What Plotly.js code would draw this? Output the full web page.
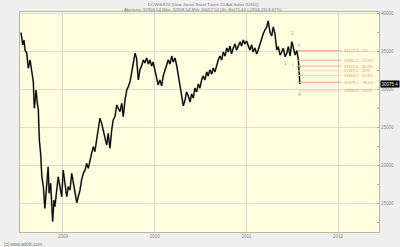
<!DOCTYPE html>
<html><head><meta charset="utf-8">
<script src="https://cdn.plot.ly/plotly-3.0.1.min.js"></script>
<style>html,body{margin:0;padding:0;background:#efefef;}#chart{width:400px;height:247px;}</style>
</head><body><div id="chart"></div>
<script>
const dates = [
'2008-07-18','2008-07-25','2008-07-30','2008-08-03','2008-08-10','2008-08-16','2008-08-23','2008-08-29','2008-09-05','2008-09-09',
'2008-09-16','2008-09-21','2008-09-25','2008-09-29','2008-10-04','2008-10-09','2008-10-15','2008-10-21','2008-10-28','2008-11-03',
'2008-11-07','2008-11-13','2008-11-21','2008-11-26','2008-11-30','2008-12-07','2008-12-13','2008-12-20','2008-12-27','2009-01-02',
'2009-01-09','2009-01-16','2009-01-22','2009-01-29','2009-02-05','2009-02-11','2009-02-18','2009-02-25','2009-03-03','2009-03-10',
'2009-03-16','2009-03-23','2009-03-30','2009-04-05','2009-04-12','2009-04-18','2009-04-25','2009-05-02','2009-05-08','2009-05-15',
'2009-05-21','2009-05-28','2009-06-04','2009-06-10','2009-06-17','2009-06-24','2009-06-30','2009-07-07','2009-07-14','2009-07-20',
'2009-07-27','2009-08-03','2009-08-09','2009-08-16','2009-08-23','2009-08-29','2009-09-05','2009-09-12','2009-09-18','2009-09-25',
'2009-10-01','2009-10-08','2009-10-15','2009-10-21','2009-10-28','2009-11-03','2009-11-10','2009-11-17','2009-11-23','2009-11-30',
'2009-12-07','2009-12-13','2009-12-20','2009-12-26','2010-01-02','2010-01-09','2010-01-15','2010-01-22','2010-01-29','2010-02-04',
'2010-02-11','2010-02-18','2010-02-24','2010-03-03','2010-03-10','2010-03-16','2010-03-23','2010-03-30','2010-04-05','2010-04-12',
'2010-04-18','2010-04-25','2010-05-02','2010-05-08','2010-05-15','2010-05-22','2010-05-28','2010-06-04','2010-06-10','2010-06-17',
'2010-06-24','2010-06-30','2010-07-07','2010-07-13','2010-07-20','2010-07-27','2010-08-02','2010-08-09','2010-08-16','2010-08-22',
'2010-08-29','2010-09-05','2010-09-11','2010-09-18','2010-09-25','2010-10-01','2010-10-08','2010-10-15','2010-10-21','2010-10-28',
'2010-11-03','2010-11-10','2010-11-17','2010-11-23','2010-11-30','2010-12-07','2010-12-13','2010-12-20','2010-12-26','2011-01-02',
'2011-01-09','2011-01-15','2011-01-22','2011-01-28','2011-02-04','2011-02-11','2011-02-17','2011-02-24','2011-03-03','2011-03-09',
'2011-03-16','2011-03-23','2011-03-29','2011-04-05','2011-04-12','2011-04-18','2011-04-25','2011-05-02','2011-05-08','2011-05-15',
'2011-05-22','2011-05-28','2011-06-04','2011-06-11','2011-06-17','2011-06-24','2011-07-01','2011-07-07','2011-07-14','2011-07-21',
'2011-07-27','2011-08-02'
];
const values = [
37500,35880,36540,35220,34790,32820,33910,32590,31050,27550,
29960,28210,27330,23380,21630,18550,17240,14390,17680,19870,
16370,17680,12650,15490,14610,16800,18550,17240,15920,19430,
17890,15920,17240,16800,19000,17680,16370,15130,15920,16800,
18120,19000,19430,20310,19660,20750,21630,22500,21840,23380,
24700,26240,25580,24700,23820,22720,24260,22290,24700,26010,
26450,27990,27550,27110,28210,26450,28640,29960,30390,31050,
32160,33470,34790,34130,31280,32590,33120,33910,33510,34170,
33380,33910,33120,33640,32590,31540,30620,31280,30490,31800,
32590,33120,33910,33380,34430,33640,34170,33120,31930,29960,
28910,27860,28640,29700,29170,28380,29430,28910,30220,29700,
30750,30220,31280,31800,31280,32330,31800,32590,32060,32850,
32330,33380,33910,34430,33910,34960,34430,35490,34960,35750,
34700,35490,36010,35220,35750,36280,35750,36540,36010,36410,
35750,35220,35880,34960,35490,34700,35220,36010,36540,37330,
37860,38250,39040,37590,37070,38250,37330,35220,35660,34570,
35000,35450,34340,34790,35660,34430,36320,35660,34570,35130,
33910,30750
];
const fibValues = [35127.3, 33881.1, 33111.4, 32487.0, 31863.9, 30979.1, 29846.8];
const fibLabels = ['35127.3 - 0%','33881.1 - 23.6%','33111.4 - 38.2%','32487.0 - 50%','31863.9 - 61.8%','30979.1 - 78.6%','29846.8 - 100%'];
const waveLabels = ['1','2','i','ii','iii'];
const waveDates = ['2011-06-06','2011-07-04','2011-07-03','2011-07-29','2011-07-30'];
const waveValues = [33470, 37420, 33250, 35880, 29390];
const lastLabel = '30075.4';
const xTicks = ['2009-01-01','2010-01-01','2011-01-01','2012-01-01'];
const xTickText = ['2009','2010','2011','2012'];
const yTicks = [15000,20000,25000,30000,35000,40000];
const yTickText = ['15000','20000','25000','30000','35000','40000'];
const title1 = 'DOW:BR20 (Dow Jones Brazil Titans 20 Adr Index (USD))';
const title2 = 'Abertura: 32908.54 Máx: 32908.54 Mín: 30057.50 Ult: 30075.44 (-2854.23/-8.67%)';
const footer = '(c) www.advfn.com';

const F = 'Liberation Sans, Arial, sans-serif';
const strong = [true,true,true,false,false,true,false];
const shapes = fibValues.map((v,i)=>({type:'line', xref:'x', yref:'y', x0:'2011-07-25', x1:'2012-01-14', y0:v, y1:v,
  line:{color: strong[i] ? '#f4a08e' : '#f8cdbd', width:1}}));
const ann = [];
fibValues.forEach((v,i)=>ann.push({x:'2012-01-16', y:v, xref:'x', yref:'y', text:fibLabels[i], showarrow:false,
  xanchor:'left', yanchor:'middle', font:{family:F, size:4, color:'#f08a78'}}));
waveLabels.forEach((t,i)=>ann.push({x:waveDates[i], y:waveValues[i], xref:'x', yref:'y', text:t, showarrow:false,
  xanchor:'center', yanchor:'middle', font:{family:F, size:5, color: (t==='1'||t==='2') ? '#f08a78' : '#a0a8e8'}}));
ann.push({x:1, y:values[values.length-1], xref:'paper', yref:'y', text:lastLabel, showarrow:false, xanchor:'left', yanchor:'middle',
  xshift:1, bgcolor:'#000', borderpad:0.5, font:{family:F, size:4.5, color:'#fff'}});
ann.push({x:0.51, y:1.034, xref:'paper', yref:'paper', text:title1, showarrow:false, xanchor:'center', yanchor:'middle',
  font:{family:F, size:4.3, color:'#777'}});
ann.push({x:0.51, y:1.0125, xref:'paper', yref:'paper', text:title2, showarrow:false, xanchor:'center', yanchor:'middle',
  font:{family:F, size:4.3, color:'#777'}});
ann.push({x:-0.05, y:-0.055, xref:'paper', yref:'paper', text:footer, showarrow:false, xanchor:'left', yanchor:'middle',
  font:{family:F, size:4.5, color:'#777'}});

const halo = {x:dates, y:values, type:'scatter', mode:'lines', line:{color:'#9a9a90', width:1.9}, hoverinfo:'skip'};
const trace = {x:dates, y:values, type:'scatter', mode:'lines', line:{color:'#000', width:1.1}, hoverinfo:'skip'};
const layout = {
  width:400, height:247, margin:{l:20, r:21, t:12, b:15},
  paper_bgcolor:'#efefef', plot_bgcolor:'#ffffe0', showlegend:false,
  xaxis:{type:'date', range:['2008-07-14','2012-06-12'], tickvals:xTicks, ticktext:xTickText,
    showgrid:true, gridcolor:'#dcdccc', gridwidth:1, zeroline:false, showline:true, mirror:true, linecolor:'#b8b89c', linewidth:1,
    ticks:'', tickfont:{family:F, size:4.5, color:'#888'}},
  yaxis:{range:[11280, 40220], side:'right', tickvals:yTicks, ticktext:yTickText, showgrid:true, gridcolor:'#dcdccc', gridwidth:1, zeroline:false,
    showline:true, mirror:true, linecolor:'#b8b89c', linewidth:1, ticks:'', tickfont:{family:F, size:4.5, color:'#888'},
    minor:{dtick:2500, tick0:0, ticks:'inside', ticklen:2, tickcolor:'#aaa', showgrid:false}},
  shapes:shapes, annotations:ann
};
Plotly.newPlot('chart', [halo, trace], layout, {staticPlot:true, displayModeBar:false});
</script></body></html>
